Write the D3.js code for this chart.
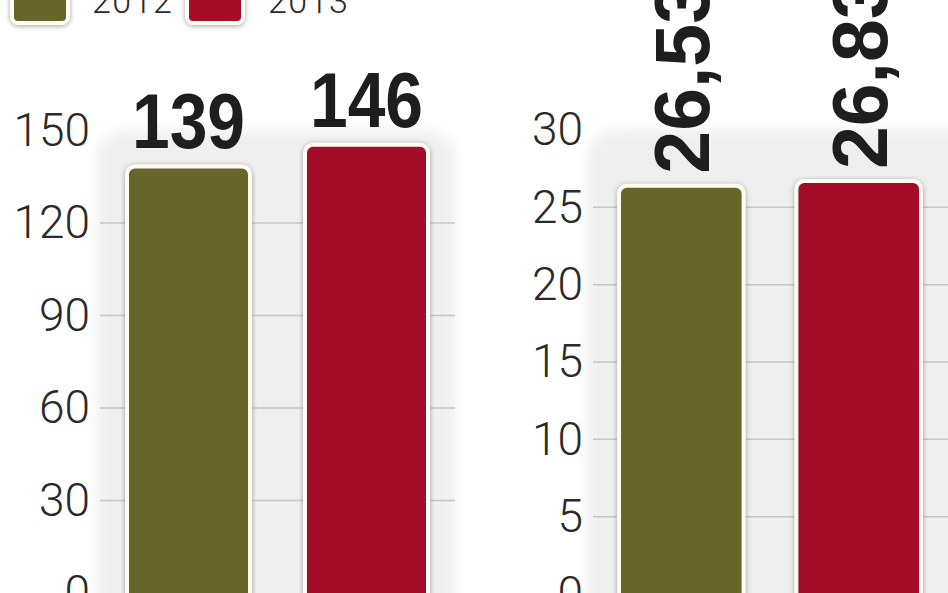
<!DOCTYPE html>
<html><head><meta charset="utf-8">
<script src="https://cdn.jsdelivr.net/npm/d3@7"></script>
<style>
html,body{margin:0;padding:0;background:#fff;}
svg{display:block;}
</style></head>
<body>
<svg id="chart" width="948" height="593"></svg>
<script>
// Data
const years = ["2012", "2013"];
const colors = ["#66652a", "#a30e2b"];
const leftValues = [139, 146];
const leftLabels = ["139", "146"];
const leftTicks = [0, 30, 60, 90, 120, 150];
const rightValues = [26.53, 26.83];
const rightLabels = ["26,53", "26,83"];
const rightTicks = [0, 5, 10, 15, 20, 25, 30];

const svg = d3.select("#chart");
const defs = svg.append("defs");
const sh = defs.append("filter").attr("id","shadow").attr("x","-20%").attr("y","-20%").attr("width","140%").attr("height","140%");
sh.append("feDropShadow").attr("dx",0).attr("dy",1).attr("stdDeviation",2.5).attr("flood-color","#666").attr("flood-opacity",0.6);
const blur = defs.append("filter").attr("id","soft").attr("x","-20%").attr("y","-20%").attr("width","140%").attr("height","140%");
blur.append("feGaussianBlur").attr("stdDeviation",7);

const tickFont = "Roboto, Lato, 'Open Sans', sans-serif";
const valueFont = "'Liberation Sans', Arial, sans-serif";

function panel(cfg){
  const g = svg.append("g");
  const y = d3.scaleLinear().domain(cfg.domain).range(cfg.yRange);
  const x = d3.scaleBand().domain(years).range(cfg.xRange).paddingInner(cfg.padInner).paddingOuter(0);

  // soft background panel
  g.append("rect").attr("x",cfg.panel[0]).attr("y",y(cfg.domain[1])).attr("width",cfg.panel[1]-cfg.panel[0])
    .attr("height",700).attr("rx",28).attr("fill","#efefef").attr("filter","url(#soft)");

  // gridlines
  const gridTicks = cfg.ticks.filter(t => t > 0 && t < cfg.domain[1]);
  g.selectAll("line.grid").data(gridTicks).join("line").attr("class","grid")
    .attr("x1",cfg.gridX[0]).attr("x2",cfg.gridX[1])
    .attr("y1",d=>y(d)).attr("y2",d=>y(d))
    .attr("stroke","#c6c6c6").attr("stroke-width",1.5);

  // axis labels
  const axis = d3.axisLeft(y).tickValues(cfg.ticks).tickSize(0).tickPadding(cfg.tickPad).tickFormat(d3.format("d"));
  const ag = g.append("g").attr("transform",`translate(${cfg.axisX},0)`).call(axis);
  ag.select(".domain").remove();
  ag.selectAll("text").attr("font-family",tickFont).attr("font-weight",300).attr("font-size",46).attr("fill","#2a2a2a");

  // bars
  g.selectAll("rect.bar").data(cfg.values).join("rect").attr("class","bar")
    .attr("x",(d,i)=>x(years[i])+2).attr("width",x.bandwidth()-4)
    .attr("y",d=>y(d)+2).attr("height",d=>y(0)-y(d)+10)
    .attr("rx",8).attr("fill",(d,i)=>colors[i])
    .attr("stroke","#fffdf2").attr("stroke-width",4).attr("filter","url(#shadow)");

  // value labels
  if (cfg.rotate) {
    g.selectAll("text.val").data(cfg.values).join("text").attr("class","val")
      .attr("transform",(d,i)=>`translate(${x(years[i])+x.bandwidth()/2+28},${y(d)-10}) rotate(-90)`)
      .attr("text-anchor","start")
      .attr("font-family",valueFont).attr("font-weight",700).attr("font-size",77).attr("fill","#1e1e1e")
      .text((d,i)=>cfg.labels[i]);
  } else {
    g.selectAll("text.val").data(cfg.values).join("text").attr("class","val")
      .attr("transform",(d,i)=>`translate(${x(years[i])+x.bandwidth()/2},${y(d)-16}) scale(0.88,1)`)
      .attr("text-anchor","middle")
      .attr("font-family",valueFont).attr("font-weight",700).attr("font-size",77).attr("fill","#1e1e1e")
      .text((d,i)=>cfg.labels[i]);
  }
}

panel({domain:[0,150], yRange:[593,130.5], xRange:[125,430], padInner:0.2865,
  ticks:leftTicks, values:leftValues, labels:leftLabels, panel:[97,455], gridX:[100,455], axisX:100, tickPad:10, rotate:false});
panel({domain:[0,30], yRange:[594,130], xRange:[617,923], padInner:0.275,
  ticks:rightTicks, values:rightValues, labels:rightLabels, panel:[588,990], gridX:[593,948], axisX:593, tickPad:10, rotate:true});

// legend
const lg = svg.append("g");
const legendX = [10, 185];
const legendTextX = [92, 268];
lg.selectAll("rect").data(years).join("rect")
  .attr("x",(d,i)=>legendX[i]+2).attr("y",-40).attr("width",56).attr("height",63).attr("rx",6)
  .attr("fill",(d,i)=>colors[i]).attr("stroke","#fffdf2").attr("stroke-width",4).attr("filter","url(#shadow)");
lg.selectAll("text").data(years).join("text")
  .attr("x",(d,i)=>legendTextX[i]).attr("y",13)
  .attr("font-family",tickFont).attr("font-weight",300).attr("font-size",34).attr("letter-spacing",1.5).attr("fill","#2a2a2a")
  .text(d=>d);
</script>
</body></html>
